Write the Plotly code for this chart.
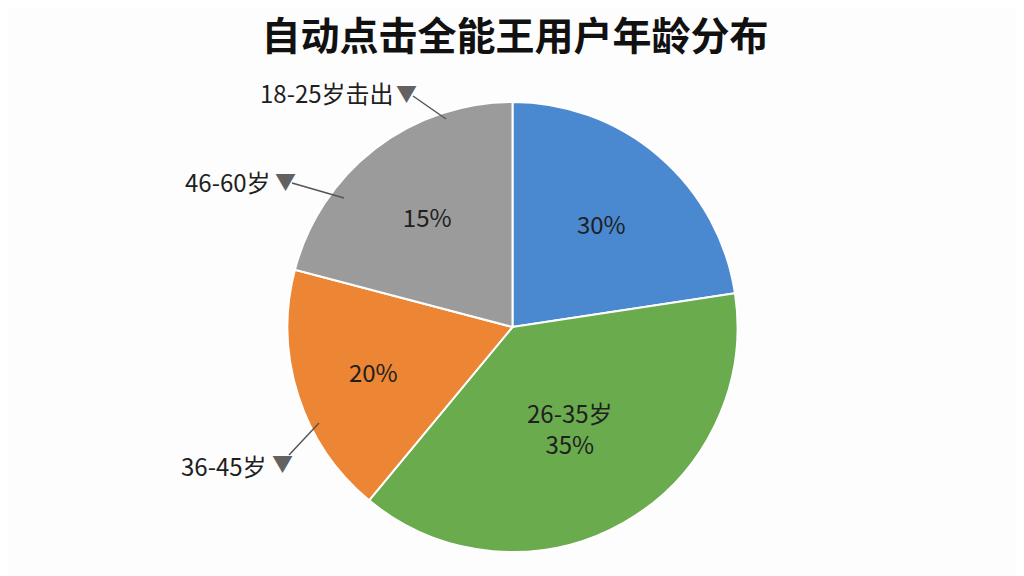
import plotly.graph_objects as go

groups = ["18-25岁", "26-35岁", "36-45岁", "46-60岁"]
shares = [22.6, 38.4, 18.1, 20.9]
shown_text = ["30%", "26-35岁<br>35%", "20%", "15%"]
colors = ["#4A88D0", "#6AAB4E", "#EC8534", "#9B9B9B"]

# outside callouts
callouts = ["18-25岁击出", "46-60岁", "36-45岁"]

W, H = 1024, 576
OFF = 8  # page body margin
FONT = "Noto Sans CJK SC"


def px(x):
    return (x - OFF) / W


def py(y):
    return 1 - (y - OFF) / H


fig = go.Figure(go.Pie(
    labels=groups,
    values=shares,
    text=shown_text,
    textinfo="text",
    textposition="inside",
    insidetextorientation="horizontal",
    textfont=dict(family=FONT, size=24, color="#1f1f1f"),
    sort=False,
    direction="clockwise",
    rotation=0,
    marker=dict(colors=colors, line=dict(color="white", width=2)),
    domain=dict(x=[px(285), px(740)], y=[py(552), py(102)]),
    showlegend=False,
    hoverinfo="label+percent",
))

# label text end, triangle, line start, line end (pixel positions)
spots = [
    ((396, 93), (406, 92), (413, 96), (446, 119)),
    ((273, 181), (285, 180), (292, 183), (344, 198)),
    ((269, 465), (282, 462), (289, 455), (319, 423)),
]

for txt, (t, tri, a, b) in zip(callouts, spots):
    fig.add_annotation(x=px(t[0]), y=py(t[1]), xref="paper", yref="paper",
                       text=txt, showarrow=False, xanchor="right", yanchor="middle",
                       font=dict(family=FONT, size=24, color="#1f1f1f"))
    fig.add_annotation(x=px(tri[0]), y=py(tri[1]), xref="paper", yref="paper",
                       text="▼", showarrow=False, xanchor="center", yanchor="middle",
                       font=dict(family=FONT, size=21, color="#626262"))
    fig.add_shape(type="line", xref="paper", yref="paper",
                  x0=px(a[0]), y0=py(a[1]), x1=px(b[0]), y1=py(b[1]),
                  line=dict(color="#555555", width=1.5))

fig.update_layout(
    width=W, height=H,
    margin=dict(l=0, r=0, t=0, b=0),
    paper_bgcolor="#FDFDFD",
    plot_bgcolor="#FDFDFD",
    title=dict(text="<b>自动点击全能王用户年龄分布</b>", x=px(515), xanchor="center",
               y=py(36), yanchor="middle",
               font=dict(family=FONT, size=39, color="#111111")),
)

fig.write_html("out.html")
